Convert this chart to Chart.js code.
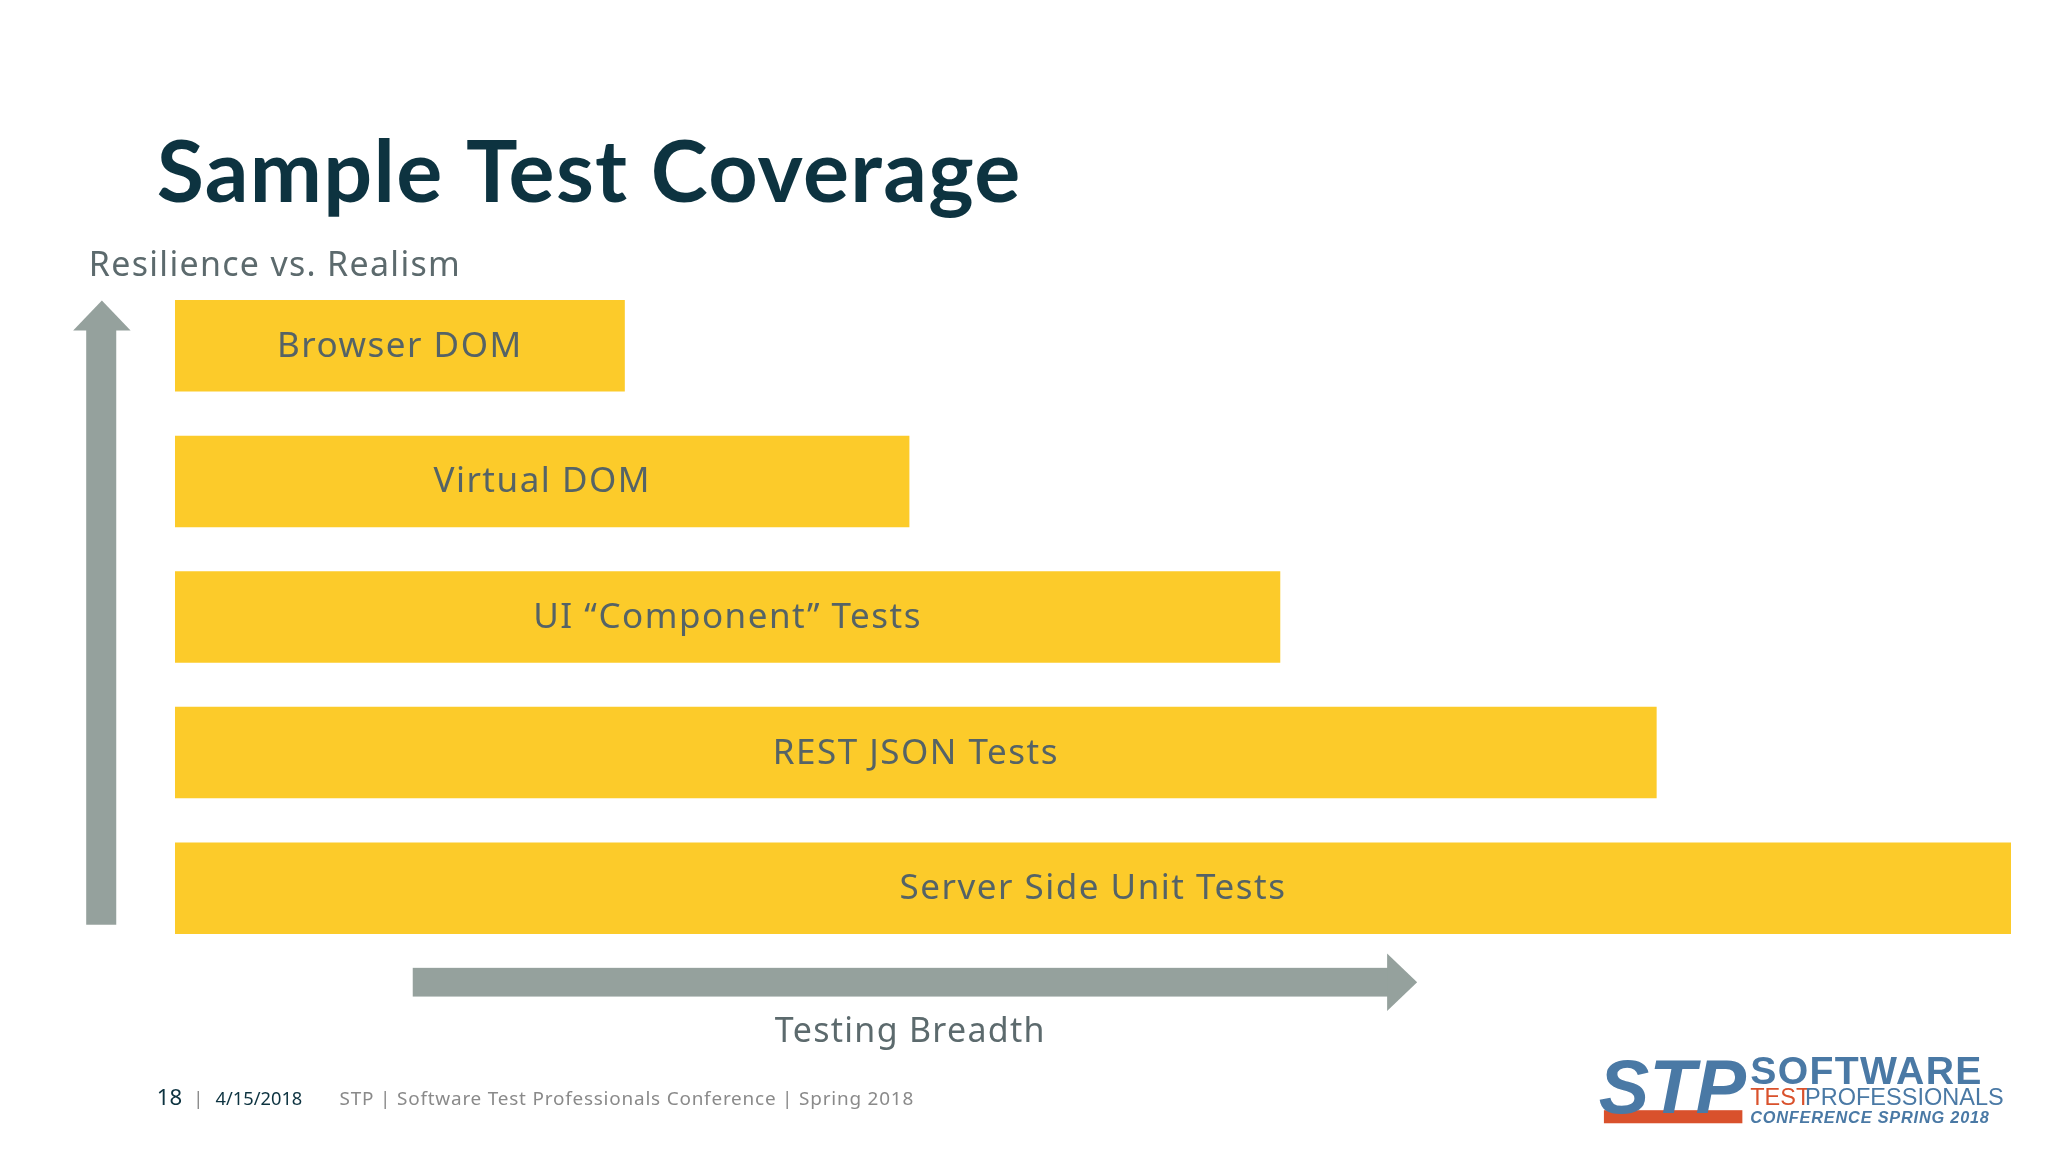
<!DOCTYPE html>
<html><head><meta charset="utf-8">
<script src="https://cdn.jsdelivr.net/npm/chart.js@4/dist/chart.umd.min.js"></script>
<style>html,body{margin:0;padding:0;background:#fff}#wrap{width:2048px;height:1152px}</style>
</head><body><div id="wrap"><canvas id="c" width="2048" height="1152"></canvas></div>
<script>
const categories = ["Browser DOM","Virtual DOM","UI “Component” Tests","REST JSON Tests","Server Side Unit Tests"];
const coverage = [24.5, 40, 60.2, 80.7, 100];
const titleText = "Sample Test Coverage";
const yAxisLabel = "Resilience vs. Realism";
const xAxisLabel = "Testing Breadth";

const S = 2048/1568;
const deco = {
  id:'deco',
  afterDatasetsDraw(chart){
    const ctx = chart.ctx;
    const meta = chart.getDatasetMeta(0);
    ctx.save();
    ctx.fillStyle = '#556366';
    ctx.font = '35px "Noto Sans"';
    ctx.letterSpacing='1.5px';
    ctx.textAlign='center'; ctx.textBaseline='middle';
    meta.data.forEach((b,i)=>{ ctx.fillText(categories[i], (b.base+b.x)/2, b.y+1); });
    ctx.restore();

    ctx.save();
    ctx.scale(S,S);
    ctx.fillStyle='#0d3340';
    ctx.font='bold 66px Lato';
    ctx.letterSpacing='1px';
    ctx.textBaseline='alphabetic';
    ctx.fillText(titleText,120,155);
    ctx.fillStyle='#5c6a6d';
    ctx.font='26px "Noto Sans"';
    ctx.letterSpacing='1px';
    ctx.fillText(yAxisLabel,68,211);
    ctx.textAlign='center';
    ctx.fillText(xAxisLabel,697,798);
    ctx.letterSpacing='0px';
    ctx.fillStyle='#95a19d';
    ctx.fillRect(66,252,23,456);
    ctx.beginPath();ctx.moveTo(56,253);ctx.lineTo(78,230);ctx.lineTo(100,253);ctx.closePath();ctx.fill();
    ctx.fillRect(316,741,748,22);
    ctx.beginPath();ctx.moveTo(1062,730);ctx.lineTo(1085,752);ctx.lineTo(1062,774);ctx.closePath();ctx.fill();
    ctx.textAlign='left';
    ctx.fillStyle='#0d3340';
    ctx.font='17px "Noto Sans"';
    ctx.fillText('18',120,846);
    ctx.fillStyle='#888';ctx.font='14px "Noto Sans"';ctx.fillText('|',148,846);
    ctx.fillStyle='#0d3340';ctx.font='14px "Noto Sans"';ctx.fillText('4/15/2018',165,846);
    ctx.fillStyle='#8a8a8a';ctx.font='14.5px "Noto Sans"';ctx.letterSpacing='0.6px';
    ctx.fillText('STP | Software Test Professionals Conference | Spring 2018',260,846);
    ctx.letterSpacing='0px';
    ctx.font='bold italic 58px "Liberation Sans"';
    ctx.fillStyle='#d9512c';ctx.fillRect(1228,850,106,10);
    ctx.fillStyle='#4a79a5';
    ctx.fillText('STP',1224,852);
    ctx.font='bold 30px "Liberation Sans"';ctx.letterSpacing='1px';
    ctx.fillText('SOFTWARE',1340,830);
    ctx.font='18px "Liberation Sans"';ctx.letterSpacing='0px';ctx.fillStyle='#d9512c';ctx.fillText('TEST',1340,846);
    ctx.fillStyle='#4a79a5';ctx.fillText('PROFESSIONALS',1382,846);
    ctx.font='bold italic 12.5px "Liberation Sans"';ctx.letterSpacing='0.6px';ctx.fillText('CONFERENCE SPRING 2018',1340,860);
    ctx.restore();
  }
};

new Chart(document.getElementById('c'),{
  type:'bar',
  data:{labels:categories,datasets:[{data:coverage,backgroundColor:'#fccb2a',borderWidth:0,barPercentage:0.9,categoryPercentage:0.75}]},
  options:{
    indexAxis:'y',responsive:false,animation:false,
    layout:{padding:{left:175,right:37,top:278,bottom:196}},
    scales:{x:{display:false,min:0,max:100},y:{display:false}},
    plugins:{legend:{display:false},tooltip:{enabled:false}}
  },
  plugins:[deco]
});
</script></body></html>
